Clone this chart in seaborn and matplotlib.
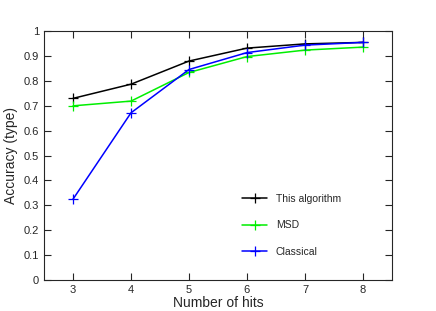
import pandas as pd
import matplotlib
matplotlib.use('Agg')
import matplotlib.pyplot as plt
import seaborn as sns

hits = [3, 4, 5, 6, 7, 8]
this_algorithm = [0.730, 0.787, 0.880, 0.932, 0.949, 0.955]
msd = [0.700, 0.719, 0.834, 0.898, 0.924, 0.936]
classical = [0.325, 0.672, 0.846, 0.914, 0.944, 0.955]
series_names = ['This algorithm', 'MSD', 'Classical']
colors = ['black', '#00ee00', 'blue']

df = pd.DataFrame({
    'hits': hits * 3,
    'acc': this_algorithm + msd + classical,
    'method': [n for n in series_names for _ in hits],
})

sns.set_style('ticks')
plt.rcParams['font.family'] = ['Liberation Sans', 'DejaVu Sans']

fig = plt.figure(figsize=(4.36, 3.11), dpi=100)
ax = fig.add_axes([0.101, 0.0997, 0.798, 0.8])
sns.lineplot(data=df, x='hits', y='acc', hue='method', hue_order=series_names,
             palette=colors, marker='+', markersize=6.5, markeredgewidth=0.9,
             linewidth=1.1, ax=ax)
# seaborn paints marker edges white; give them the line colour
for line in ax.lines:
    line.set_markeredgecolor(line.get_color())

ax.set_xlim(2.5, 8.5)
ax.set_ylim(0, 1)
ax.set_xticks(hits)
ax.set_yticks([i / 10 for i in range(11)])
ax.set_yticklabels(['0'] + ['0.%d' % i for i in range(1, 10)] + ['1'])
ax.tick_params(direction='in', top=True, right=True, length=5, labelsize=8, width=0.8)
for s in ax.spines.values():
    s.set_linewidth(0.8)
ax.set_xlabel('Number of hits', fontsize=10, labelpad=1)
ax.set_ylabel('Accuracy (type)', fontsize=10)

leg = ax.legend(frameon=False, loc='lower right', bbox_to_anchor=(0.88, 0.055),
                fontsize=7.5, handlelength=2.4, labelspacing=1.6)
for h in leg.legend_handles:
    h.set_markeredgecolor(h.get_color())

fig.savefig('out.png', dpi=100)
